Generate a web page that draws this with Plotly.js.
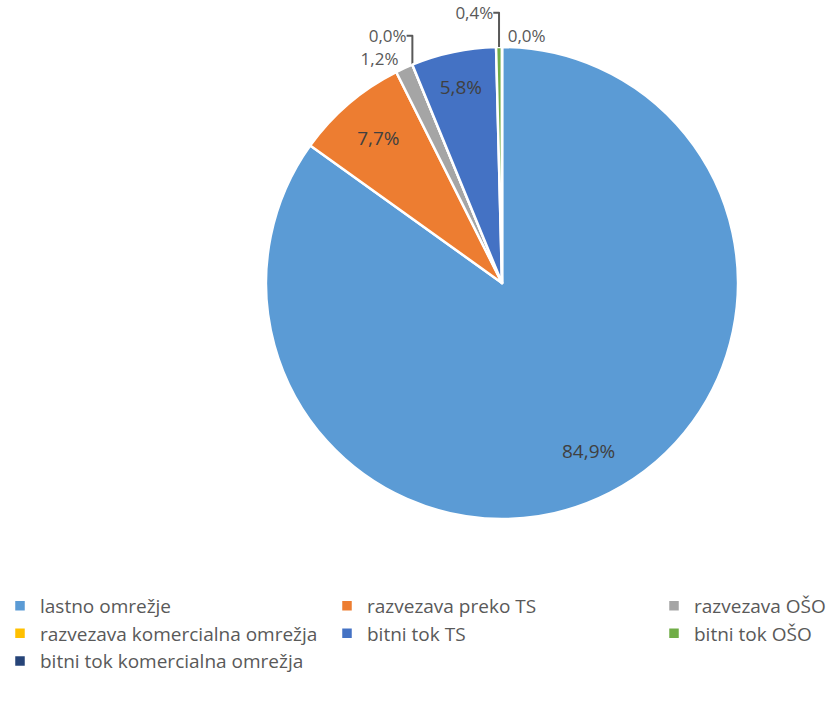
<!DOCTYPE html>
<html><head><meta charset="utf-8">
<script src="https://cdn.plot.ly/plotly-3.0.1.min.js"></script>
<style>html,body{margin:0;padding:0;background:#fff;overflow:hidden}</style>
</head><body><div id="chart" style="width:1010px;height:713px"></div>
<script>
var labels = ['lastno omrežje','razvezava preko TS','razvezava OŠO','razvezava komercialna omrežja','bitni tok TS','bitni tok OŠO','bitni tok komercialna omrežja'];
var values = [84.9, 7.7, 1.2, 0.0, 5.8, 0.4, 0.0];
var colors = ['#5B9BD5','#ED7D31','#A5A5A5','#FFC000','#4472C4','#70AD47','#264478'];
var positions = ['inside','inside','outside','outside','inside','outside','outside'];

var W = 1010, H = 713;
var domX = [266/W, 738/W], domY = [1-519/H, 1-47/H];

// label of the largest slice placed further out along its mid-angle
var total = values.reduce(function(a,b){return a+b;},0);
var mid0 = (values[0]/total)*Math.PI; // clockwise from 12 o'clock
var cxP = (domX[0]+domX[1])/2, cyP = (domY[0]+domY[1])/2;
var rX = (domX[1]-domX[0])/2, rY = (domY[1]-domY[0])/2;
var frac = 0.8;
var templates = values.map(function(v,i){return i===0 ? '' : '%{value:.1f}%';});

var trace = {
  type:'pie', labels:labels, values:values, sort:false, direction:'clockwise', rotation:0,
  marker:{colors:colors, line:{color:'#ffffff', width:2.5}},
  texttemplate:templates, textposition:positions,
  insidetextfont:{family:'Open Sans', size:19, color:'#404040'},
  outsidetextfont:{family:'Open Sans', size:17, color:'#595959'},
  insidetextorientation:'horizontal',
  automargin:false, hoverinfo:'none',
  domain:{x:domX, y:domY}
};
var layout = {
  width:W, height:H, margin:{l:0,r:0,t:0,b:0},
  paper_bgcolor:'#fff', separators:', ',
  showlegend:true,
  legend:{orientation:'h', x:0, y:0.177, xanchor:'left', yanchor:'top',
    entrywidth:282, entrywidthmode:'pixels', tracegroupgap:0, itemwidth:30,
    font:{family:'Open Sans', size:19, color:'#595959'}},
  annotations:[{
    xref:'paper', yref:'paper',
    x: cxP + Math.sin(mid0)*rX*frac, y: cyP + Math.cos(mid0)*rY*frac,
    text: values[0].toFixed(1).replace('.',',')+'%', showarrow:false,
    font:{family:'Open Sans', size:19, color:'#404040'}
  }]
};
Plotly.newPlot('chart',[trace],layout,{displayModeBar:false,staticPlot:true});
</script></body></html>
